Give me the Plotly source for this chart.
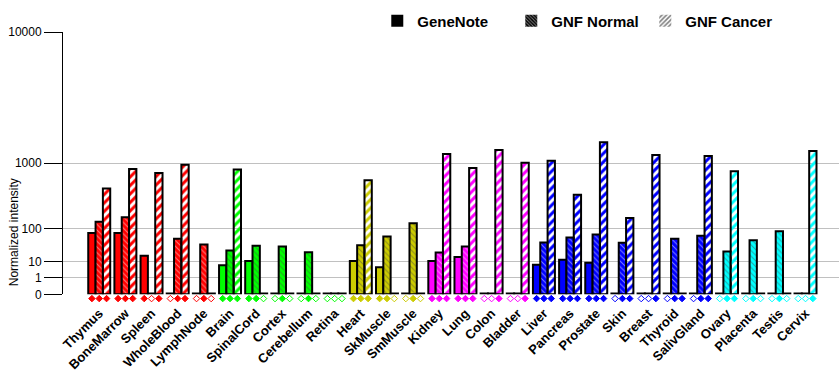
import math
import plotly.graph_objects as go

categories = ["Thymus", "BoneMarrow", "Spleen", "WholeBlood", "LymphNode",
              "Brain", "SpinalCord", "Cortex", "Cerebellum", "Retina",
              "Heart", "SkMuscle", "SmMuscle",
              "Kidney", "Lung", "Colon", "Bladder",
              "Liver", "Pancreas", "Prostate", "Skin", "Breast", "Thyroid", "SalivGland",
              "Ovary", "Placenta", "Testis", "Cervix"]

genenote   = [80, 80, 17, 0, 0,   6.7, 10.5, 0, 0, 0,   10.5, 5.2, 0,
              10.5, 15.5, 0, 0,   7, 12, 8.7, 0, 0, 0, 0,   0, 0, 0, 0]
gnf_normal = [140, 170, 0, 58, 40,   26, 37, 35, 23, 0,   38, 66, 130,
              22.5, 35, 0, 0,   46, 62, 74, 45, 0, 58, 69,   24, 53, 88, 0]
gnf_cancer = [490, 860, 770, 960, 0,   850, 0, 0, 0, 0,   630, 0, 0,
              1250, 880, 1370, 1010,   1060, 400, 1630, 165, 1220, 0, 1190,   810, 0, 0, 1340]

# presence calls (filled diamond = 1, open diamond = 0)
pres_genenote = [1, 1, 1, 0, 0,  1, 1, 0, 0, 0,  1, 1, 0,  1, 1, 0, 0,  1, 1, 1, 0, 0, 0, 0,  0, 0, 0, 0]
pres_normal   = [1, 1, 0, 1, 1,  1, 1, 1, 1, 0,  1, 1, 1,  1, 1, 0, 0,  1, 1, 1, 1, 0, 1, 1,  1, 1, 1, 0]
pres_cancer   = [1, 1, 1, 1, 0,  1, 0, 0, 0, 0,  1, 0, 0,  1, 1, 1, 1,  1, 1, 1, 1, 1, 1, 1,  1, 0, 0, 1]

RED, GREEN, OLIVE, MAGENTA, BLUE, CYAN = "#FF0000", "#00FF00", "#CCCC00", "#FF00FF", "#0000FF", "#00FFFF"
cat_colors = [RED] * 5 + [GREEN] * 5 + [OLIVE] * 3 + [MAGENTA] * 4 + [BLUE] * 7 + [CYAN] * 4

y_tick_values = [0, 1, 10, 100, 1000, 10000]
y_tick_labels = ["0", "1", "10", "100", "1000", "10000"]

P = math.log10(2)


def tr(v):
    return v ** P


MIN_H = 0.05
BW = 0.28
FONT = "Arial, Liberation Sans, sans-serif"
Y_DOMAIN_LOW = 0.0392   # room for the presence-call diamonds under the baseline

idx = list(range(len(categories)))
fig = go.Figure()

series = [
    (genenote, pres_genenote, -BW, None),
    (gnf_normal, pres_normal, 0.0, "normal"),
    (gnf_cancer, pres_cancer, BW, "cancer"),
]

for vals, pres, off, kind in series:
    marker = dict(color=cat_colors, line=dict(color="black", width=2))
    if kind == "normal":
        marker["pattern"] = dict(shape="\\", fgcolor="white",
                                 size=4, solidity=0.25, fillmode="overlay")
    elif kind == "cancer":
        marker["pattern"] = dict(shape="/", fgcolor=cat_colors, bgcolor="white",
                                 size=6, solidity=0.5, fillmode="replace")
    fig.add_trace(go.Bar(
        x=[i + off for i in idx],
        y=[max(tr(v), MIN_H) for v in vals],
        width=BW, marker=marker, showlegend=False,
        cliponaxis=False, hoverinfo="skip"))
    fig.add_trace(go.Scatter(
        x=[i + off for i in idx], y=[0.6] * len(idx), mode="markers",
        xaxis="x", yaxis="y2",
        marker=dict(symbol=["diamond" if p else "diamond-open" for p in pres],
                    color=cat_colors, size=5, line=dict(width=1, color=cat_colors)),
        showlegend=False, cliponaxis=False, hoverinfo="skip"))

# legend entries
fig.add_trace(go.Bar(x=[-10], y=[1], name="GeneNote",
                     marker=dict(color="black", line=dict(width=0))))
fig.add_trace(go.Bar(x=[-10], y=[1], name="GNF Normal",
                     marker=dict(color="black", line=dict(width=0),
                                 pattern=dict(shape="\\", fgcolor="white", bgcolor="black",
                                              size=3, solidity=0.4))))
fig.add_trace(go.Bar(x=[-10], y=[1], name="GNF Cancer",
                     marker=dict(color="black", line=dict(width=0),
                                 pattern=dict(shape="/", fgcolor="black", bgcolor="white",
                                              size=4, solidity=0.5))))

fig.update_layout(
    width=840, height=385,
    margin=dict(l=63, r=1, t=32, b=80, autoexpand=False),
    paper_bgcolor="white", plot_bgcolor="white",
    barmode="overlay",
    font=dict(family=FONT, color="black", size=12),
    legend=dict(orientation="h", x=0.405, xanchor="left", y=1.040, yanchor="middle",
                font=dict(family=FONT, size=15, weight="bold", color="black"),
                entrywidth=89, entrywidthmode="pixels",
                bgcolor="rgba(0,0,0,0)", borderwidth=0),
    xaxis=dict(range=[-1.385, 28.28], tickvals=idx, ticktext=categories,
               tickangle=-45, tickfont=dict(family=FONT, size=13, weight="bold"),
               showgrid=False, showline=False, zeroline=False, ticks="",
               ticklabelstandoff=8, fixedrange=True, automargin=False, anchor="y"),
    yaxis=dict(range=[0, 16], domain=[Y_DOMAIN_LOW, 1],
               tickvals=[tr(v) for v in y_tick_values], ticktext=y_tick_labels,
               showline=True, linecolor="black", linewidth=1,
               ticks="outside", ticklen=18, tickcolor="black", tickwidth=1,
               showgrid=True, gridcolor="#C0C0C0", gridwidth=1, zeroline=False,
               tickfont=dict(family=FONT, size=12), fixedrange=True, automargin=False),
    yaxis2=dict(range=[0, 1], domain=[0, Y_DOMAIN_LOW], anchor="x", visible=False,
                showgrid=False, zeroline=False, fixedrange=True),
    annotations=[dict(text="Normalized intensity", textangle=-90, xref="paper", yref="paper",
                      x=-0.063, y=0.267, xanchor="center", yanchor="middle", showarrow=False,
                      font=dict(family=FONT, size=12))],
)

fig.write_html("out.html", config={"displayModeBar": False},
               post_script="document.body.style.margin='0';")
